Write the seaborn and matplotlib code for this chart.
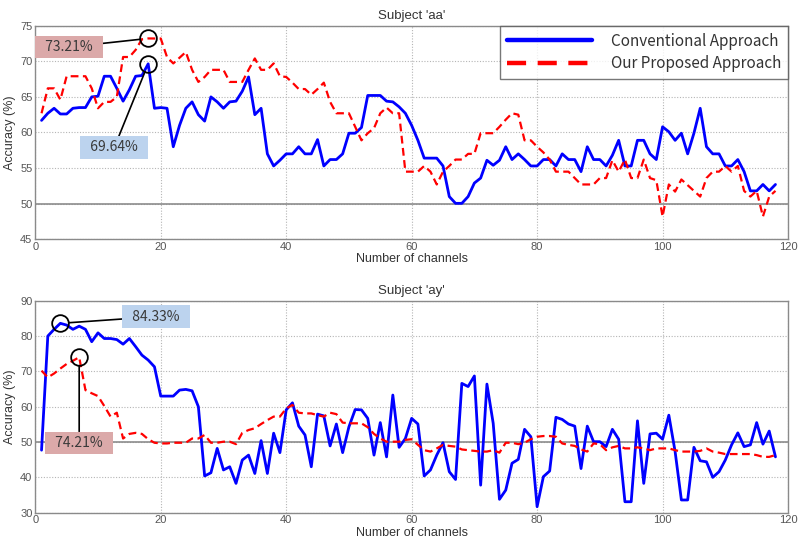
import numpy as np
import pandas as pd
import matplotlib
matplotlib.use("Agg")
import matplotlib.pyplot as plt
import seaborn as sns

# ---------------- data ----------------
channels = list(range(1, 119))

aa_conventional = [
    61.7, 62.7, 63.4, 62.6, 62.6, 63.4, 63.5, 63.5, 65.0, 65.1,
    67.9, 67.9, 66.2, 64.4, 66.0, 67.9, 68.0, 69.64, 63.4, 63.5,
    63.4, 58.0, 61.0, 63.4, 64.3, 62.5, 61.6, 65.0, 64.3, 63.4,
    64.3, 64.4, 65.8, 67.8, 62.5, 63.4, 57.0, 55.3, 56.1, 57.0,
    57.0, 58.0, 57.0, 57.0, 59.0, 55.3, 56.2, 56.2, 57.0, 59.9,
    59.9, 60.7, 65.2, 65.2, 65.2, 64.4, 64.3, 63.6, 62.7, 61.0,
    58.9, 56.4, 56.4, 56.4, 55.3, 51.0, 50.05, 50.05, 51.0, 52.9,
    53.6, 56.1, 55.4, 56.1, 58.0, 56.2, 57.0, 56.2, 55.3, 55.3,
    56.2, 56.2, 55.3, 57.0, 56.2, 56.2, 54.5, 58.0, 56.2, 56.2,
    55.3, 56.8, 58.9, 55.3, 55.3, 58.9, 58.9, 57.0, 56.2, 60.8,
    60.1, 58.9, 59.9, 57.0, 59.9, 63.4, 58.0, 57.0, 57.0, 55.3,
    55.3, 56.2, 54.5, 51.8, 51.8, 52.7, 51.8, 52.7,
]

aa_proposed = [
    62.7, 66.2, 66.2, 64.6, 67.9, 67.9, 67.9, 67.9, 66.2, 63.4,
    64.3, 64.3, 65.0, 70.6, 70.6, 71.6, 73.1, 73.21, 73.2, 73.2,
    70.6, 69.7, 70.5, 71.3, 68.8, 67.1, 67.8, 68.8, 68.8, 68.8,
    67.1, 67.1, 67.1, 68.8, 70.4, 68.8, 68.8, 69.7, 67.9, 67.8,
    67.0, 66.1, 66.1, 65.3, 66.1, 67.0, 64.3, 62.7, 62.7, 62.7,
    60.8, 58.9, 59.9, 60.6, 62.7, 63.5, 62.7, 62.7, 54.5, 54.5,
    54.5, 55.3, 54.5, 52.7, 54.5, 55.3, 56.2, 56.2, 57.0, 57.0,
    59.9, 59.9, 59.9, 60.8, 61.8, 62.7, 62.5, 58.9, 58.9, 58.0,
    57.2, 56.2, 54.5, 54.5, 54.5, 53.6, 52.7, 52.7, 52.7, 53.6,
    53.6, 56.1, 54.5, 56.2, 53.6, 53.6, 56.2, 53.6, 53.3, 48.2,
    52.7, 51.7, 53.4, 52.6, 51.8, 51.0, 53.6, 54.5, 54.5, 55.3,
    54.5, 55.3, 51.8, 51.0, 51.8, 48.2, 51.0, 51.8,
]

ay_conventional = [
    47.7, 80.0, 81.9, 83.6, 83.1, 81.9, 82.8, 81.9, 78.4, 80.9,
    79.3, 79.3, 79.0, 77.7, 79.3, 77.0, 74.6, 73.2, 71.3, 63.0,
    63.0, 63.0, 64.7, 64.9, 64.5, 60.0, 40.4, 41.3, 48.2, 42.1,
    43.0, 38.3, 44.9, 46.3, 41.1, 50.4, 41.1, 52.5, 47.0, 59.1,
    61.1, 54.5, 52.0, 43.0, 57.9, 57.4, 48.9, 55.1, 47.0, 54.3,
    59.2, 59.1, 56.7, 46.3, 55.5, 45.8, 63.3, 48.5, 51.0, 56.7,
    55.1, 40.4, 42.1, 46.3, 49.8, 41.6, 39.4, 66.6, 65.7, 68.7,
    37.8, 66.4, 55.3, 33.8, 36.4, 44.0, 45.1, 53.6, 51.5, 31.7,
    40.2, 41.8, 57.0, 56.4, 55.1, 54.5, 42.5, 54.5, 50.1, 50.1,
    48.7, 53.6, 50.8, 33.1, 33.1, 56.0, 38.3, 52.3, 52.5, 50.8,
    57.6, 47.3, 33.6, 33.6, 48.5, 44.7, 44.4, 40.0, 41.6, 44.9,
    49.2, 52.6, 48.7, 49.2, 55.5, 49.4, 53.1, 45.8,
]

ay_proposed = [
    70.2, 68.3, 69.4, 70.8, 72.1, 73.0, 74.0, 64.7, 63.8, 63.0,
    60.2, 57.2, 58.3, 51.0, 52.3, 52.6, 52.3, 50.8, 49.8, 49.6,
    49.6, 49.8, 49.8, 49.8, 51.0, 51.0, 52.0, 49.8, 49.8, 50.1,
    50.1, 49.4, 52.6, 53.4, 53.9, 55.1, 56.2, 57.2, 57.2, 59.5,
    60.5, 58.3, 58.1, 58.1, 57.6, 57.2, 58.3, 57.9, 55.5, 55.3,
    55.3, 55.3, 54.2, 52.3, 51.0, 50.1, 50.1, 50.1, 50.6, 50.8,
    49.2, 47.7, 47.3, 48.2, 49.2, 48.9, 48.7, 47.9, 47.7, 47.5,
    47.3, 47.3, 47.7, 47.0, 49.8, 49.8, 49.4, 49.8, 50.8, 51.5,
    51.7, 51.7, 51.5, 49.6, 49.2, 48.9, 47.9, 47.3, 49.6, 49.4,
    47.7, 48.5, 48.9, 48.2, 48.2, 48.5, 48.2, 47.7, 48.2, 48.2,
    48.2, 47.7, 47.3, 47.3, 47.3, 47.5, 48.2, 47.3, 47.0, 46.6,
    46.6, 46.6, 46.6, 46.6, 46.3, 45.8, 45.8, 46.3,
]

series_names = ["Conventional Approach", "Our Proposed Approach"]
subjects = ["Subject 'aa'", "Subject 'ay'"]
peak_labels = {
    ("aa", "conv"): "69.64%",
    ("aa", "prop"): "73.21%",
    ("ay", "conv"): "84.33%",
    ("ay", "prop"): "74.21%",
}
xticks = [0, 20, 40, 60, 80, 100, 120]
yticks_aa = [45, 50, 55, 60, 65, 70, 75]
yticks_ay = [30, 40, 50, 60, 70, 80, 90]

# ---------------- style ----------------
sns.set_theme(style="white")
plt.rcParams["font.family"] = ["Liberation Sans", "DejaVu Sans"]

BLUE = "#0000ff"
RED = "#ff0000"
PINK_BOX = "#dba9a9"
BLUE_BOX = "#bcd3ee"
BOXFONT = ["Noto Sans CJK KR", "DejaVu Sans"]

fig = plt.figure(figsize=(7.98, 5.43), dpi=100)
ax1 = fig.add_axes([0.0442, 0.5593, 0.9433, 0.3934])
ax2 = fig.add_axes([0.0442, 0.0558, 0.9433, 0.3904])


def make_df(conv, prop):
    return pd.concat([
        pd.DataFrame({"ch": channels, "acc": conv, "method": series_names[0]}),
        pd.DataFrame({"ch": channels, "acc": prop, "method": series_names[1]}),
    ], ignore_index=True)


def style_axes(ax, yticks, title):
    ax.set_xlim(0, 120)
    ax.set_ylim(yticks[0], yticks[-1])
    ax.set_xticks(xticks)
    ax.set_yticks(yticks)
    ax.grid(True, linestyle=(0, (1, 1.5)), color="#b5b5b5", linewidth=0.8)
    ax.axhline(50, color="#8c8c8c", linewidth=1.2, zorder=1.5)
    for sp in ax.spines.values():
        sp.set_color("#8a8a8a")
        sp.set_linewidth(1.0)
    ax.tick_params(axis="both", labelsize=8, labelcolor="#555555",
                   length=0, pad=2)
    ax.set_xlabel("Number of channels", fontsize=9, color="#333333", labelpad=1)
    ax.set_ylabel("Accuracy (%)", fontsize=9, color="#333333", labelpad=3)
    ax.set_title(title, fontsize=9.5, color="#333333", pad=5)


def draw(ax, conv, prop):
    df = make_df(conv, prop)
    sns.lineplot(data=df[df.method == series_names[0]], x="ch", y="acc",
                 ax=ax, color=BLUE, linewidth=2.0, label=series_names[0],
                 zorder=3)
    sns.lineplot(data=df[df.method == series_names[1]], x="ch", y="acc",
                 ax=ax, color=RED, linewidth=1.6, label=series_names[1],
                 zorder=3)
    ax.lines[-1].set_linestyle((0, (3.5, 2)))


def mark_peak(ax, values, label, text_xy, boxcolor):
    i = int(np.argmax(values))
    px, py = channels[i], values[i]
    ax.plot([px], [py], marker="o", markersize=12, markerfacecolor="none",
            markeredgecolor="black", markeredgewidth=1.3, zorder=5)
    ax.annotate("  " + label + "  ", xy=(px, py), xytext=text_xy,
                textcoords="data", ha="center", va="center",
                fontsize=10, color="#3a3a3a", family=BOXFONT,
                bbox=dict(boxstyle="square,pad=0.3", fc=boxcolor, ec="none"),
                arrowprops=dict(arrowstyle="-", color="black", lw=1.2,
                                shrinkA=0, shrinkB=6),
                zorder=6, annotation_clip=False)


draw(ax1, aa_conventional, aa_proposed)
style_axes(ax1, yticks_aa, subjects[0])
mark_peak(ax1, aa_proposed, peak_labels[("aa", "prop")], (5.4, 72.0), PINK_BOX)
mark_peak(ax1, aa_conventional, peak_labels[("aa", "conv")], (12.6, 57.9), BLUE_BOX)

leg = ax1.legend(loc="upper right", borderaxespad=0, frameon=True,
                 fancybox=False, handlelength=5.6, handletextpad=1.2,
                 borderpad=0.45, labelspacing=0.35,
                 prop={"family": BOXFONT, "size": 11})
leg.get_frame().set_edgecolor("#555555")
leg.get_frame().set_linewidth(1.0)
for t in leg.get_texts():
    t.set_color("#333333")
for h in leg.legend_handles:
    h.set_linewidth(3.2)
leg.legend_handles[1].set_linestyle((0, (4.3, 2.6)))

draw(ax2, ay_conventional, ay_proposed)
style_axes(ax2, yticks_ay, subjects[1])
ax2.get_legend().remove()
mark_peak(ax2, ay_conventional, peak_labels[("ay", "conv")], (19.3, 85.5), BLUE_BOX)
mark_peak(ax2, ay_proposed, peak_labels[("ay", "prop")], (7.0, 49.8), PINK_BOX)

fig.savefig("out.png", dpi=100, facecolor="white")
